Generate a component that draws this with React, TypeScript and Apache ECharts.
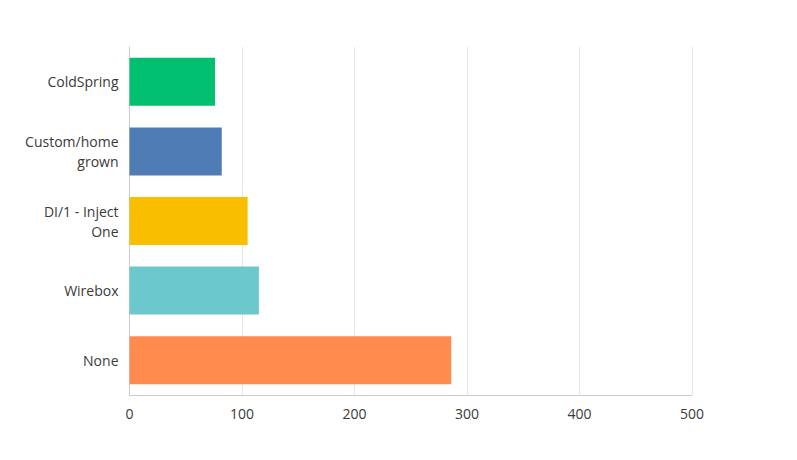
import React, { useEffect, useRef } from "react";
import * as echarts from "echarts";

const categories = ["ColdSpring", "Custom/home\ngrown", "DI/1 - Inject\nOne", "Wirebox", "None"];
const values = [76, 82, 105, 115, 286];
const colors = ["#00BF6F", "#507CB6", "#F9BE00", "#6BC8CD", "#FF8B4F"];
const xTicks = { min: 0, max: 500, interval: 100 };

export default function App() {
  const ref = useRef<HTMLDivElement>(null);
  useEffect(() => {
    if (!ref.current) return;
    const chart = echarts.init(ref.current, null, { renderer: "svg" });
    chart.setOption({
      animation: false,
      grid: { left: 129.5, right: 105, top: 47, bottom: 65, containLabel: false },
      xAxis: {
        type: "value",
        min: xTicks.min,
        max: xTicks.max,
        interval: xTicks.interval,
        axisLine: { show: true, lineStyle: { color: "#cccccc", width: 1 } },
        axisTick: { show: false },
        splitLine: { show: true, lineStyle: { color: "#e6e6e6", width: 1 } },
        axisLabel: { color: "#3a3a3a", fontSize: 14, fontFamily: "Open Sans", margin: 11 },
      },
      yAxis: {
        type: "category",
        data: categories,
        inverse: true,
        axisLine: { show: true, lineStyle: { color: "#cccccc", width: 1 } },
        axisTick: { show: false },
        splitLine: { show: false },
        axisLabel: {
          color: "#3a3a3a",
          fontSize: 14,
          fontFamily: "Open Sans",
          margin: 11,
          lineHeight: 20,
          align: "right",
        },
      },
      series: [
        {
          type: "bar",
          data: values.map((v, i) => ({
            value: v,
            itemStyle: { color: colors[i] },
          })),
          barCategoryGap: "31%",
        },
      ],
    });
    return () => chart.dispose();
  }, []);
  return <div ref={ref} style={{ width: 797, height: 460, margin: -8 }} />;
}
